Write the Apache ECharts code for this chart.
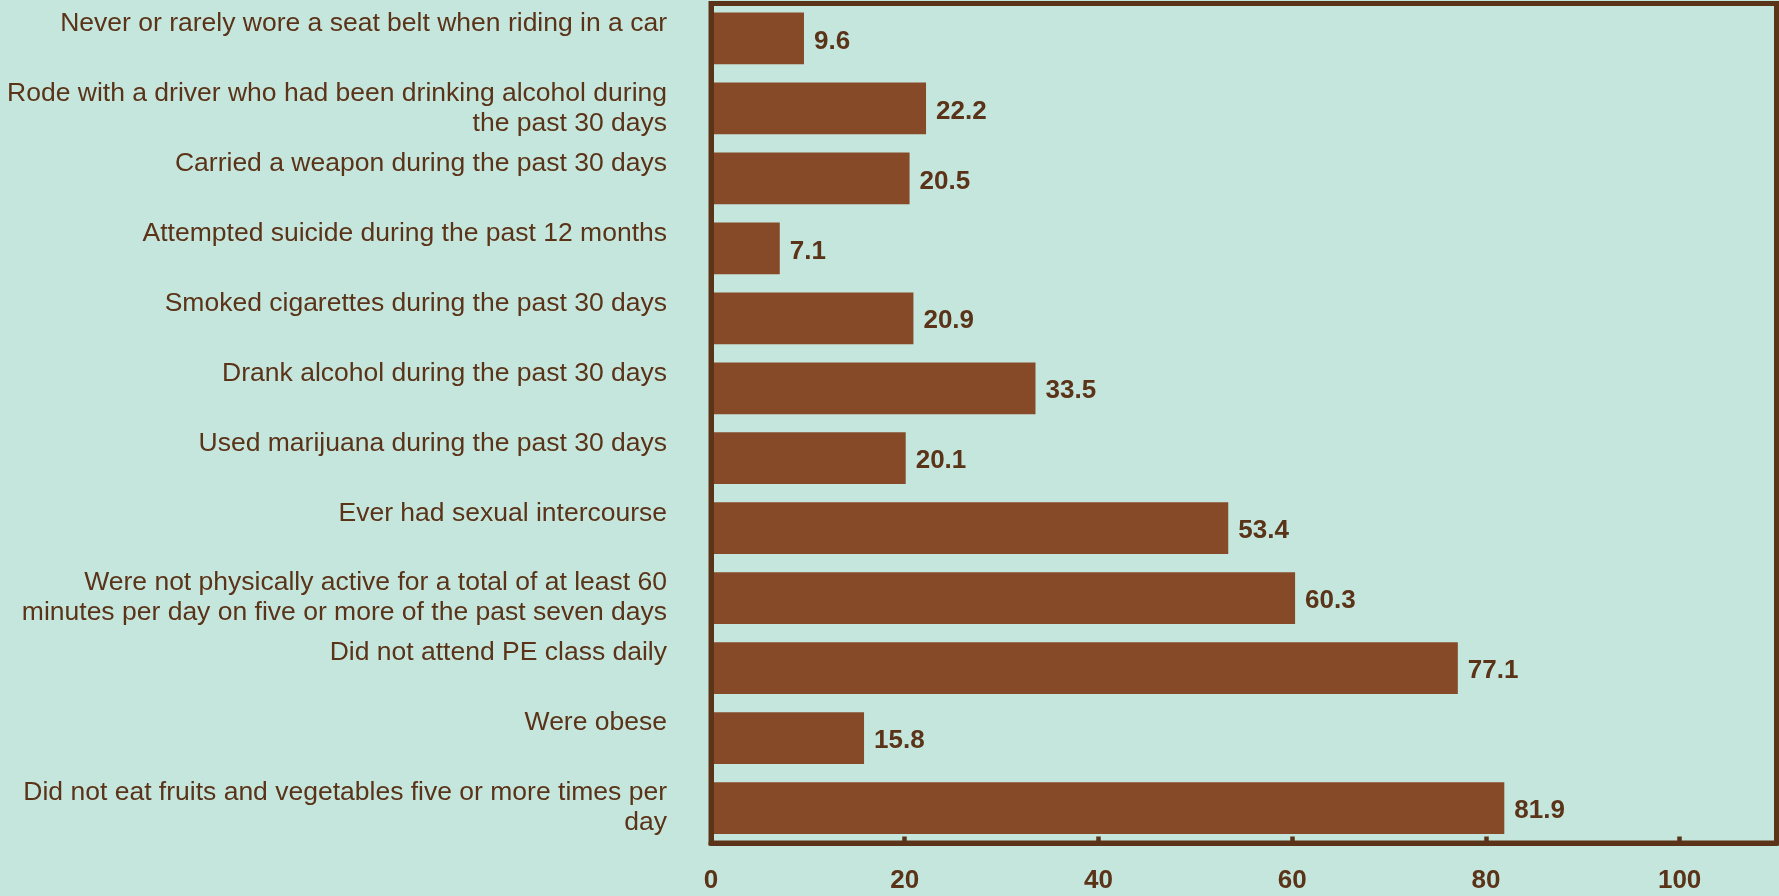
<!DOCTYPE html>
<html>
<head>
<meta charset="utf-8">
<script src="https://cdn.jsdelivr.net/npm/echarts@6/dist/echarts.min.js"></script>
<style>
html,body{margin:0;padding:0;background:#c5e6dc;}
#chart{width:1779px;height:896px;}
</style>
</head>
<body>
<div id="chart"></div>
<script>
var categories = [
  "Never or rarely wore a seat belt when riding in a car",
  "Rode with a driver who had been drinking alcohol during\nthe past 30 days",
  "Carried a weapon during the past 30 days",
  "Attempted suicide during the past 12 months",
  "Smoked cigarettes during the past 30 days",
  "Drank alcohol during the past 30 days",
  "Used marijuana during the past 30 days",
  "Ever had sexual intercourse",
  "Were not physically active for a total of at least 60\nminutes per day on five or more of the past seven days",
  "Did not attend PE class daily",
  "Were obese",
  "Did not eat fruits and vegetables five or more times per\nday"
];
var values = [9.6, 22.2, 20.5, 7.1, 20.9, 33.5, 20.1, 53.4, 60.3, 77.1, 15.8, 81.9];
var tickLabels = [0, 20, 40, 60, 80, 100];
var tickMarks = [20, 40, 60, 80, 100];

var dark = '#5a3319';
var font = '"Liberation Sans", Arial, sans-serif';
var chart = echarts.init(document.getElementById('chart'));
chart.setOption({
  backgroundColor: '#c5e6dc',
  animation: false,
  grid: {
    left: 711, right: 2.5, top: 3.5, bottom: 53,
    show: true, borderColor: dark, borderWidth: 5,
    containLabel: false, outerBoundsMode: 'none'
  },
  xAxis: {
    type: 'value', min: 0, max: 110, interval: 20, z: 3,
    splitLine: { show: false },
    axisLine: { show: true, lineStyle: { color: dark, width: 5 } },
    axisTick: { show: true, inside: true, length: 6.5, customValues: tickMarks, lineStyle: { color: dark, width: 4.5 } },
    axisLabel: {
      customValues: tickLabels,
      margin: 25, color: dark, fontSize: 26, fontWeight: 'bold', fontFamily: font
    }
  },
  yAxis: {
    type: 'category', data: categories, inverse: true, z: 3,
    axisLine: { show: true, lineStyle: { color: dark, width: 5 } },
    axisTick: { show: false },
    axisLabel: {
      interval: 0, margin: 44, color: dark, fontSize: 26.5, fontFamily: font,
      lineHeight: 30, align: 'right', padding: [0, 0, 8, 0],
      formatter: function (v) { return v.indexOf('\n') < 0 ? v + '\n ' : v; }
    }
  },
  series: [{
    type: 'bar', data: values, barCategoryGap: '26%',
    itemStyle: { color: '#874a28' },
    label: {
      show: true, position: 'right', distance: 10, offset: [0, 3],
      color: dark, fontSize: 26, fontWeight: 'bold', fontFamily: font,
      formatter: function (p) { return p.value.toFixed(1); }
    }
  }]
});
</script>
</body>
</html>
